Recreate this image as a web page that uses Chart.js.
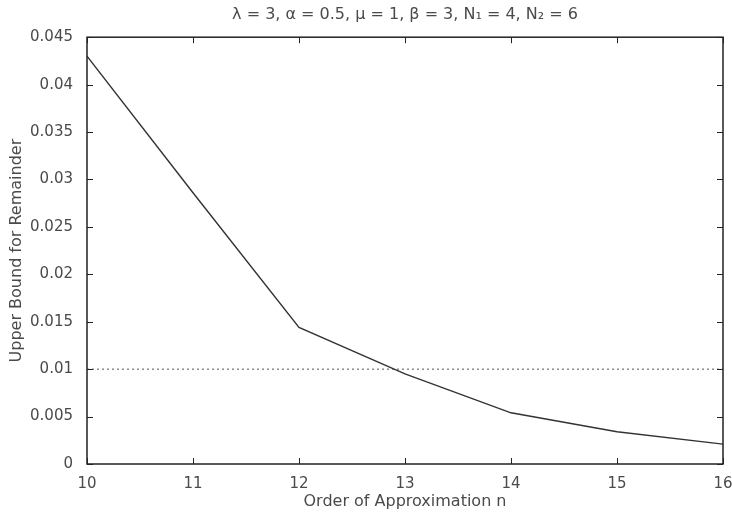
<!DOCTYPE html>
<html>
<head>
<meta charset="utf-8">
<script src="https://cdn.jsdelivr.net/npm/chart.js@4/dist/chart.umd.min.js"></script>
<style>
  html, body { margin: 0; padding: 0; background: #fff; }
  #wrap { width: 732px; height: 515px; }
</style>
</head>
<body>
<div id="wrap"><canvas id="chart" width="732" height="515"></canvas></div>
<script>
const orders = [10, 11, 12, 13, 14, 15, 16];
const upperBound = [0.043, 0.0286, 0.0144, 0.0095, 0.0054, 0.0034, 0.0021];
const threshold = 0.01;
const xTicks = [10, 11, 12, 13, 14, 15, 16];
const yTicks = [0, 0.005, 0.01, 0.015, 0.02, 0.025, 0.03, 0.035, 0.04, 0.045];

const font = "'DejaVu Sans', Verdana, sans-serif";
const ink = '#4a4a4a';

// matlab-style box with inward ticks on all sides
const boxTicks = {
  id: 'boxTicks',
  afterDraw(chart) {
    const { ctx, chartArea: a, scales: { x, y } } = chart;
    ctx.save();
    ctx.strokeStyle = '#222';
    ctx.lineWidth = 1.5;
    ctx.strokeRect(a.left, a.top, a.right - a.left, a.bottom - a.top);
    ctx.lineWidth = 1;
    ctx.beginPath();
    xTicks.forEach(v => {
      const px = Math.round(x.getPixelForValue(v)) + 0.5;
      ctx.moveTo(px, a.bottom); ctx.lineTo(px, a.bottom - 6);
      ctx.moveTo(px, a.top); ctx.lineTo(px, a.top + 6);
    });
    yTicks.forEach(v => {
      const py = Math.round(y.getPixelForValue(v)) + 0.5;
      ctx.moveTo(a.left, py); ctx.lineTo(a.left + 6, py);
      ctx.moveTo(a.right, py); ctx.lineTo(a.right - 6, py);
    });
    ctx.stroke();
    ctx.restore();
  }
};

new Chart(document.getElementById('chart'), {
  type: 'line',
  data: {
    datasets: [
      {
        label: 'bound',
        data: orders.map((n, i) => ({ x: n, y: upperBound[i] })),
        borderColor: '#333',
        borderWidth: 1.4,
        pointRadius: 0,
        tension: 0,
        fill: false,
      },
      {
        label: 'threshold',
        data: [{ x: orders[0], y: threshold }, { x: orders[orders.length - 1], y: threshold }],
        borderColor: '#555',
        borderWidth: 1,
        borderDash: [2, 3],
        pointRadius: 0,
        fill: false,
      },
    ],
  },
  options: {
    responsive: false,
    animation: false,
    layout: { padding: { top: 2, right: 0, left: 0, bottom: 0 } },
    plugins: {
      legend: { display: false },
      tooltip: { enabled: false },
      title: {
        display: true,
        fullSize: false,
        text: 'λ = 3, α = 0.5, μ = 1, β = 3, N₁ = 4, N₂ = 6',
        color: ink,
        font: { family: font, size: 16, weight: 'normal' },
        padding: { top: 3, bottom: 13 },
      },
    },
    scales: {
      x: {
        type: 'linear',
        min: 10,
        max: 16,
        afterFit: (s) => { s.height = 51; s.paddingRight = 9; },
        afterBuildTicks: (s) => { s.ticks = xTicks.map(v => ({ value: v })); },
        grid: { display: false },
        border: { display: false },
        ticks: { color: ink, padding: 3, font: { family: font, size: 15 }, maxRotation: 0 },
        title: {
          display: true,
          text: 'Order of Approximation n',
          color: ink,
          font: { family: font, size: 16 },
          padding: { top: 0, bottom: 4 },
        },
      },
      y: {
        min: 0,
        max: 0.045,
        afterFit: (s) => { s.width = 87; },
        afterBuildTicks: (s) => { s.ticks = yTicks.map(v => ({ value: v })); },
        grid: { display: false },
        border: { display: false },
        ticks: {
          color: ink,
          padding: 6,
          font: { family: font, size: 15 },
          callback: (v) => String(Math.round(v * 1000) / 1000),
        },
        title: {
          display: true,
          text: 'Upper Bound for Remainder',
          color: ink,
          font: { family: font, size: 16 },
          padding: { top: 7, bottom: 0 },
        },
      },
    },
  },
  plugins: [boxTicks],
});
</script>
</body>
</html>
